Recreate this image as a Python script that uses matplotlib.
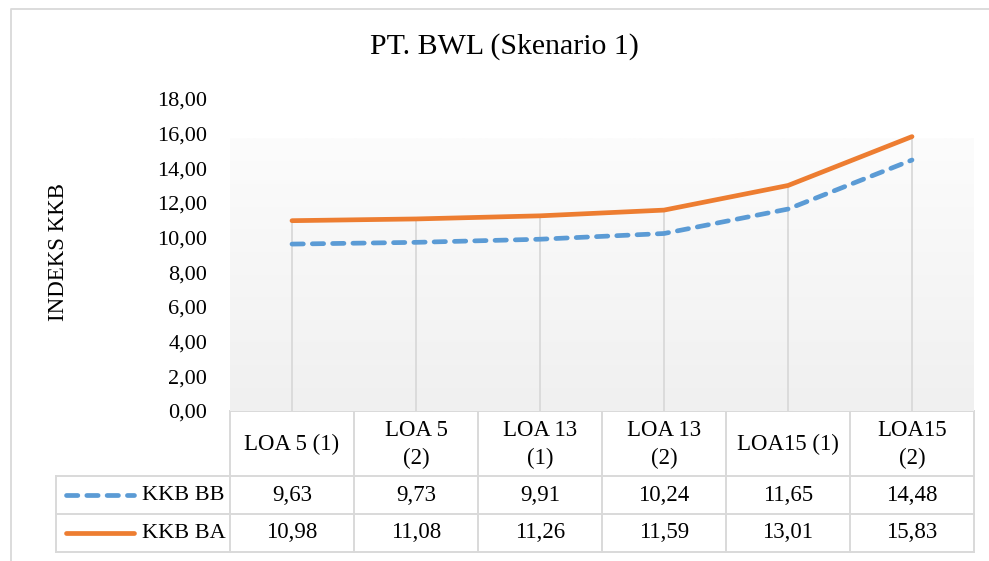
import numpy as np
import matplotlib
matplotlib.use("Agg")
import matplotlib.pyplot as plt
from matplotlib.transforms import blended_transform_factory
from matplotlib.colors import to_rgb

# Data
categories = ["LOA 5 (1)", "LOA 5\n(2)", "LOA 13\n(1)", "LOA 13\n(2)", "LOA15 (1)", "LOA15\n(2)"]
series_names = ["KKB BB", "KKB BA"]
kkb_bb = [9.63, 9.73, 9.91, 10.24, 11.65, 14.48]
kkb_ba = [10.98, 11.08, 11.26, 11.59, 13.01, 15.83]
y_ticks = [0, 2, 4, 6, 8, 10, 12, 14, 16, 18]
title = "PT. BWL (Skenario 1)"
y_label = "INDEKS KKB"


def fmt(v):
    return f"{v:.2f}".replace(".", ",")


W, H = 989, 561
plt.rcParams["font.family"] = ["Liberation Serif", "DejaVu Serif"]
fig = plt.figure(figsize=(W / 100, H / 100), dpi=100)
fig.patch.set_facecolor("white")


def fx(px):
    return px / W


def fy(py):
    return 1 - py / H


BLUE = "#5b9bd5"
ORANGE = "#ed7d31"
GRID = "#d9d9d9"
TEXT = "#000000"

# Overlay in pixel units for frame and data table
ov = fig.add_axes([0, 0, 1, 1])
ov.set_xlim(0, W)
ov.set_ylim(H, 0)
ov.axis("off")
ov.plot([11, 11, W + 5], [H + 5, 9, 9], color=GRID, lw=1.3)

# Plot area
PL, PR, PT, PB = 230, 974, 99, 411
ax = fig.add_axes([fx(PL), fy(PB), (PR - PL) / W, (PB - PT) / H])
x = np.arange(len(categories))

# soft vertical gradient background
top_c = np.array(to_rgb("#fcfcfc"))
bot_c = np.array(to_rgb("#f0f0f0"))
t = np.linspace(0, 1, 256)[:, None]
grad = (bot_c * (1 - t) + top_c * t)[:, None, :]
ax.imshow(grad, extent=(-0.5, len(categories) - 0.5, 0, 15.75), aspect="auto",
          origin="lower", zorder=0, interpolation="bilinear")

ax.set_xlim(-0.5, len(categories) - 0.5)
ax.set_ylim(0, 18)

# drop lines
ax.vlines(x, 0, np.maximum(kkb_bb, kkb_ba), color=GRID, lw=1.3, zorder=1)

ax.plot(x, kkb_bb, color=BLUE, lw=3.4, ls=(0, (2.4, 1.9)),
        dash_capstyle="round", solid_capstyle="round", zorder=3)
ax.plot(x, kkb_ba, color=ORANGE, lw=3.4, solid_capstyle="round", zorder=4)

ax.set_yticks(y_ticks)
ax.set_yticklabels([fmt(v) for v in y_ticks])
ax.tick_params(axis="y", length=0, pad=16.5, labelsize=16, labelcolor=TEXT)
ax.set_xticks([])
for s in ax.spines.values():
    s.set_visible(False)

fig.text(fx(59), fy(252), y_label, rotation=90, ha="center", va="center",
         fontsize=16.5, color=TEXT)
fig.text(fx(504), fy(47), title, ha="center", va="center", fontsize=21.5, color=TEXT)

# Data table
bt = blended_transform_factory(ax.transData, ov.transData)
n = len(categories)
ROW_TOP, HDR_BOT, R1_BOT, R2_BOT = 411, 476, 514, 552
LEG_L = 56
tlw = 1.4

ov.plot([i - 0.5 for i in (0, n)], [ROW_TOP, ROW_TOP], transform=bt, color=GRID, lw=tlw)
for yy in (HDR_BOT, R1_BOT, R2_BOT):
    ov.plot([LEG_L, PR], [yy, yy], color=GRID, lw=tlw)
for i in range(n + 1):
    ov.plot([i - 0.5, i - 0.5], [ROW_TOP, R2_BOT], transform=bt, color=GRID, lw=tlw)
ov.plot([LEG_L, LEG_L], [HDR_BOT, R2_BOT], color=GRID, lw=tlw)

for i, c in enumerate(categories):
    ov.text(i, (ROW_TOP + HDR_BOT) / 2 + 1, c, transform=bt, ha="center", va="center",
            fontsize=16.5, linespacing=1.45, color=TEXT)

rows = [(series_names[0], kkb_bb, BLUE, (0, (2.4, 1.9)), (HDR_BOT + R1_BOT) / 2),
        (series_names[1], kkb_ba, ORANGE, "-", (R1_BOT + R2_BOT) / 2)]
for name, vals, col, ls, yc in rows:
    ov.plot([66, 134], [yc, yc], color=col, lw=3.4, ls=ls,
            dash_capstyle="round", solid_capstyle="round")
    ov.text(142, yc, name, ha="left", va="center", fontsize=16, color=TEXT)
    for i, v in enumerate(vals):
        ov.text(i, yc, fmt(v), transform=bt, ha="center", va="center",
                fontsize=16.5, color=TEXT)

fig.savefig("out.png", dpi=100)
